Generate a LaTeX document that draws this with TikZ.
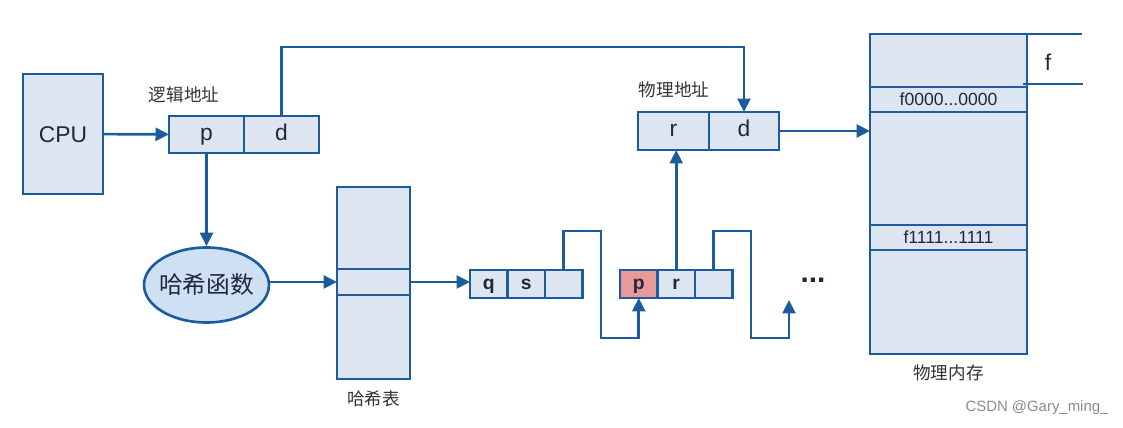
\documentclass[tikz,border=0pt]{standalone}
\usepackage{fontspec}
\setmainfont{Liberation Sans}
\newfontfamily\cjk{Noto Sans CJK SC}
\usetikzlibrary{shapes,arrows.meta,positioning,calc}
\definecolor{edgeblue}{RGB}{28,92,158}
\definecolor{cellfill}{RGB}{221,229,240}
\definecolor{hashfill}{RGB}{207,224,242}
\definecolor{keyred}{RGB}{232,154,154}
\definecolor{inkdark}{RGB}{30,40,60}

\begin{document}
\begin{tikzpicture}[
    x=0.02cm,
    y=-0.02cm,
    cell/.style={
        rectangle,
        draw=edgeblue,
        fill=cellfill,
        line width=1.5pt,
        outer sep=0pt,
        inner sep=0pt,
        text=inkdark
    },
    addr/.style={
        cell,
        minimum width=1.5cm,
        minimum height=0.74cm,
        text height=9.4pt,
        text depth=2.7pt,
        font=\fontsize{13}{15}\selectfont
    },
    entry/.style={
        cell,
        minimum width=0.75cm,
        minimum height=0.56cm,
        text height=6pt,
        text depth=0pt,
        font=\bfseries\fontsize{11}{13}\selectfont
    },
    memrow/.style={
        cell,
        minimum width=3.14cm,
        text height=7.2pt,
        text depth=0pt,
        font=\fontsize{10}{12}\selectfont
    },
    hashfn/.style={
        ellipse,
        draw=edgeblue,
        fill=hashfill,
        line width=1.5pt,
        inner xsep=-3pt,
        minimum width=2.5cm,
        minimum height=1.5cm,
        text=inkdark,
        font=\cjk\fontsize{13.5}{15}\selectfont
    },
    caption/.style={
        text=black!80,
        font=\cjk\fontsize{10}{12}\selectfont
    },
    line/.style={
        draw=edgeblue,
        line width=1.5pt,
        -{Triangle[length=0.27cm,width=0.26cm]}
    },
    link/.style={
        draw=edgeblue,
        line width=1.5pt
    }
]
\useasboundingbox (0,0) rectangle (1123,428);

% Nodes
\node [cell, minimum width=1.6cm, minimum height=2.4cm, text height=9.3pt, text depth=0pt, font=\fontsize{13}{15}\selectfont] (cpu) at (63,134) {CPU};
\node [addr] (lp) at (206.5,134.5) {p};
\node [addr, right=0pt of lp] (ld) {d};
\node [caption] (lalabel) at (184,95) {逻辑地址};

\node [hashfn] (hf) at (206.5,285) {哈希函数};

\node [cell, minimum width=1.46cm, minimum height=1.64cm] (ht) at (373.5,228) {};
\node [cell, minimum width=1.46cm, minimum height=0.52cm, below=0pt of ht] (hm) {};
\node [cell, minimum width=1.46cm, minimum height=1.68cm, below=0pt of hm] (hb) {};
\node [caption, below=0.12cm of hb] (htlabel) {哈希表};

\node [entry] (n1q) at (488.75,284) {q};
\node [entry, right=0pt of n1q] (n1s) {s};
\node [entry, right=0pt of n1s] (n1c) {};
\node [entry, fill=keyred] (n2p) at (638.75,284) {p};
\node [entry, right=0pt of n2p] (n2r) {r};
\node [entry, right=0pt of n2r] (n2c) {};
\node [text=inkdark, font=\bfseries\fontsize{17}{19}\selectfont] (more) at (813,280) {...};
\coordinate (next) at (789,300);
\coordinate (top) at (0,47);

\node [addr, minimum width=1.42cm, minimum height=0.76cm] (pr) at (673.5,131) {r};
\node [addr, minimum width=1.40cm, minimum height=0.76cm, right=0pt of pr] (pd) {d};
\node [caption] (palabel) at (674,90) {物理地址};

\node [memrow, minimum height=1.06cm] (m1) at (948.5,60.5) {};
\node [memrow, minimum height=0.5cm, below=0pt of m1] (m2) {f0000...0000};
\node [memrow, minimum height=2.26cm, below=0pt of m2] (m3) {};
\node [memrow, minimum height=0.5cm, below=0pt of m3] (m4) {f1111...1111};
\node [memrow, minimum height=2.08cm, below=0pt of m4] (m5) {};
\node [caption, below=0.1cm of m5] (memlabel) {物理内存};
\node [text=inkdark, font=\fontsize{13}{15}\selectfont] (flabel) at (1048,62) {f};

\node [text=black!45, font=\fontsize{8.5}{10}\selectfont] (mark) at (1037,408) {CSDN @Gary\_ming\_};

% Edges
\path [line] (cpu) -- (lp);
\path [line] (ld.north) -- (ld.north |- top) -| (pd.north);
\path [line] (lp) -- (hf);
\path [line] (hf.east |- hm.west) -- (hm.west);
\path [line] (hm.east) -- (hm.east -| n1q.west);
\path [line] (n1c.north) |- (601,231) -- (601,338) -| (n2p.south);
\path [line] (n2c.north) |- (751,231) -- (751,338) -| (next);
\path [line] (n2r.north) -- (n2r.north |- pr.south);
\path [line] (pd.east) -- (pd.east -| m3.west);
\path [link] (m1.north east) -- ++(55,0);
\path [link] ($(m1.south east)+(-4,-3)$) -- ++(60,0);

\end{tikzpicture}
\end{document}
